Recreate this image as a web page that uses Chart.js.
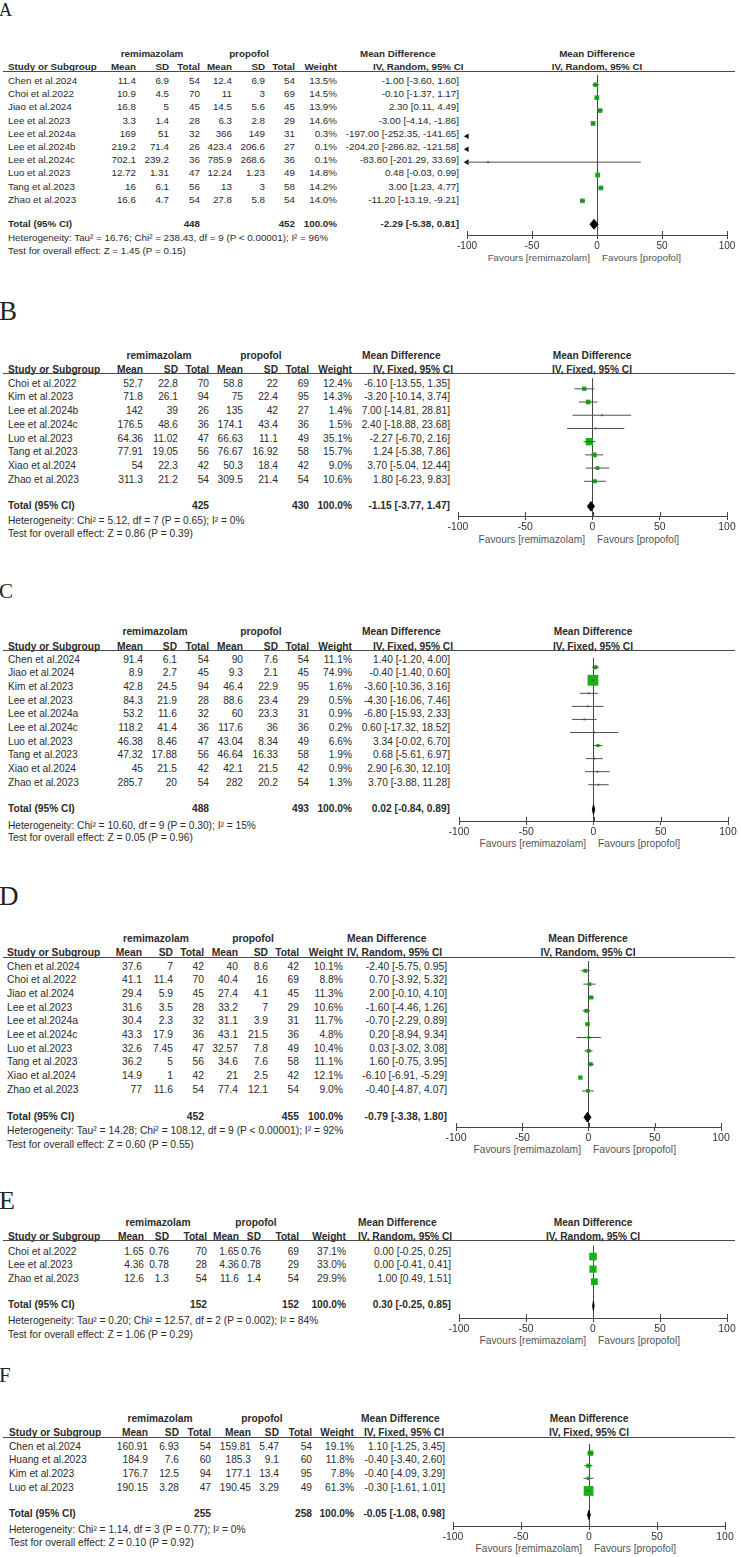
<!DOCTYPE html>
<html><head><meta charset="utf-8">
<script src="https://cdn.jsdelivr.net/npm/chart.js@4.4.1/dist/chart.umd.min.js"></script>
<style>
html,body{margin:0;padding:0;background:#fff;}
#page{position:relative;width:741px;height:1557px;overflow:hidden;font-family:"Liberation Sans",Arial,sans-serif;color:#2b2b2b;}
.t{position:absolute;white-space:nowrap;}
canvas{position:absolute;}
.rule{position:absolute;height:1px;background:#4a4a4a;}
</style></head>
<body><div id="page"></div>
<script>
// ---------- shared ----------
const tickValues = [-100, -50, 0, 50, 100];
const columnHeads = ['Mean', 'SD', 'Total', 'Mean', 'SD', 'Total', 'Weight'];
const groupNames = ['remimazolam', 'propofol'];
const favourLabels = ['Favours [remimazolam]', 'Favours [propofol]'];

// ---------- Panel A ----------
const studiesA = ['Chen et al.2024','Choi et al.2022','Jiao et al.2024','Lee et al.2023','Lee et al.2024a','Lee et al.2024b','Lee et al.2024c','Luo et al.2023','Tang et al.2023','Zhao et al.2023'];
const remiMeanA = [11.4, 10.9, 16.8, 3.3, 169, 219.2, 702.1, 12.72, 16, 16.6];
const remiSDA   = [6.9, 4.5, 5, 1.4, 51, 71.4, 239.2, 1.31, 6.1, 4.7];
const remiNA    = [54, 70, 45, 28, 32, 26, 36, 47, 56, 54];
const propMeanA = [12.4, 11, 14.5, 6.3, 366, 423.4, 785.9, 12.24, 13, 27.8];
const propSDA   = [6.9, 3, 5.6, 2.8, 149, 206.6, 268.6, 1.23, 3, 5.8];
const propNA    = [54, 69, 45, 29, 31, 27, 36, 49, 58, 54];
const weightA   = [13.5, 14.5, 13.9, 14.6, 0.3, 0.1, 0.1, 14.8, 14.2, 14.0];
const mdA       = [-1.00, -0.10, 2.30, -3.00, -197.00, -204.20, -83.80, 0.48, 3.00, -11.20];
const ciLowA    = [-3.60, -1.37, 0.11, -4.14, -252.35, -286.82, -201.29, -0.03, 1.23, -13.19];
const ciHighA   = [1.60, 1.17, 4.49, -1.86, -141.65, -121.58, 33.69, 0.99, 4.77, -9.21];
const totalNA   = [448, 452];
const pooledA   = [-2.29, -5.38, 0.81];
const hetA  = 'Heterogeneity: Tau² = 16.76; Chi² = 238.43, df = 9 (P < 0.00001); I² = 96%';
const testA = 'Test for overall effect: Z = 1.45 (P = 0.15)';

// ---------- Panel B ----------
const studiesB = ['Choi et al.2022','Kim et al.2023','Lee et al.2024b','Lee et al.2024c','Luo et al.2023','Tang et al.2023','Xiao et al.2024','Zhao et al.2023'];
const remiMeanB = [52.7, 71.8, 142, 176.5, 64.36, 77.91, 54, 311.3];
const remiSDB   = [22.8, 26.1, 39, 48.6, 11.02, 19.05, 22.3, 21.2];
const remiNB    = [70, 94, 26, 36, 47, 56, 42, 54];
const propMeanB = [58.8, 75, 135, 174.1, 66.63, 76.67, 50.3, 309.5];
const propSDB   = [22, 22.4, 42, 43.4, 11.1, 16.92, 18.4, 21.4];
const propNB    = [69, 95, 27, 36, 49, 58, 42, 54];
const weightB   = [12.4, 14.3, 1.4, 1.5, 35.1, 15.7, 9.0, 10.6];
const mdB       = [-6.10, -3.20, 7.00, 2.40, -2.27, 1.24, 3.70, 1.80];
const ciLowB    = [-13.55, -10.14, -14.81, -18.88, -6.70, -5.38, -5.04, -6.23];
const ciHighB   = [1.35, 3.74, 28.81, 23.68, 2.16, 7.86, 12.44, 9.83];
const totalNB   = [425, 430];
const pooledB   = [-1.15, -3.77, 1.47];
const hetB  = 'Heterogeneity: Chi² = 5.12, df = 7 (P = 0.65); I² = 0%';
const testB = 'Test for overall effect: Z = 0.86 (P = 0.39)';

// ---------- Panel C ----------
const studiesC = ['Chen et al.2024','Jiao et al.2024','Kim et al.2023','Lee et al.2023','Lee et al.2024a','Lee et al.2024c','Luo et al.2023','Tang et al.2023','Xiao et al.2024','Zhao et al.2023'];
const remiMeanC = [91.4, 8.9, 42.8, 84.3, 53.2, 118.2, 46.38, 47.32, 45, 285.7];
const remiSDC   = [6.1, 2.7, 24.5, 21.9, 11.6, 41.4, 8.46, 17.88, 21.5, 20];
const remiNC    = [54, 45, 94, 28, 32, 36, 47, 56, 42, 54];
const propMeanC = [90, 9.3, 46.4, 88.6, 60, 117.6, 43.04, 46.64, 42.1, 282];
const propSDC   = [7.6, 2.1, 22.9, 23.4, 23.3, 36, 8.34, 16.33, 21.5, 20.2];
const propNC    = [54, 45, 95, 29, 31, 36, 49, 58, 42, 54];
const weightC   = [11.1, 74.9, 1.6, 0.5, 0.9, 0.2, 6.6, 1.9, 0.9, 1.3];
const mdC       = [1.40, -0.40, -3.60, -4.30, -6.80, 0.60, 3.34, 0.68, 2.90, 3.70];
const ciLowC    = [-1.20, -1.40, -10.36, -16.06, -15.93, -17.32, -0.02, -5.61, -6.30, -3.88];
const ciHighC   = [4.00, 0.60, 3.16, 7.46, 2.33, 18.52, 6.70, 6.97, 12.10, 11.28];
const totalNC   = [488, 493];
const pooledC   = [0.02, -0.84, 0.89];
const hetC  = 'Heterogeneity: Chi² = 10.60, df = 9 (P = 0.30); I² = 15%';
const testC = 'Test for overall effect: Z = 0.05 (P = 0.96)';

// ---------- Panel D ----------
const studiesD = ['Chen et al.2024','Choi et al.2022','Jiao et al.2024','Lee et al.2023','Lee et al.2024a','Lee et al.2024c','Luo et al.2023','Tang et al.2023','Xiao et al.2024','Zhao et al.2023'];
const remiMeanD = [37.6, 41.1, 29.4, 31.6, 30.4, 43.3, 32.6, 36.2, 14.9, 77];
const remiSDD   = [7, 11.4, 5.9, 3.5, 2.3, 17.9, 7.45, 5, 1, 11.6];
const remiND    = [42, 70, 45, 28, 32, 36, 47, 56, 42, 54];
const propMeanD = [40, 40.4, 27.4, 33.2, 31.1, 43.1, 32.57, 34.6, 21, 77.4];
const propSDD   = [8.6, 16, 4.1, 7, 3.9, 21.5, 7.8, 7.6, 2.5, 12.1];
const propND    = [42, 69, 45, 29, 31, 36, 49, 58, 42, 54];
const weightD   = [10.1, 8.8, 11.3, 10.6, 11.7, 4.8, 10.4, 11.1, 12.1, 9.0];
const mdD       = [-2.40, 0.70, 2.00, -1.60, -0.70, 0.20, 0.03, 1.60, -6.10, -0.40];
const ciLowD    = [-5.75, -3.92, -0.10, -4.46, -2.29, -8.94, -3.02, -0.75, -6.91, -4.87];
const ciHighD   = [0.95, 5.32, 4.10, 1.26, 0.89, 9.34, 3.08, 3.95, -5.29, 4.07];
const totalND   = [452, 455];
const pooledD   = [-0.79, -3.38, 1.80];
const hetD  = 'Heterogeneity: Tau² = 14.28; Chi² = 108.12, df = 9 (P < 0.00001); I² = 92%';
const testD = 'Test for overall effect: Z = 0.60 (P = 0.55)';

// ---------- Panel E ----------
const studiesE = ['Choi et al.2022','Lee et al.2023','Zhao et al.2023'];
const remiMeanE = [1.65, 4.36, 12.6];
const remiSDE   = [0.76, 0.78, 1.3];
const remiNE    = [70, 28, 54];
const propMeanE = [1.65, 4.36, 11.6];
const propSDE   = [0.76, 0.78, 1.4];
const propNE    = [69, 29, 54];
const weightE   = [37.1, 33.0, 29.9];
const mdE       = [0.00, 0.00, 1.00];
const ciLowE    = [-0.25, -0.41, 0.49];
const ciHighE   = [0.25, 0.41, 1.51];
const totalNE   = [152, 152];
const pooledE   = [0.30, -0.25, 0.85];
const hetE  = 'Heterogeneity: Tau² = 0.20; Chi² = 12.57, df = 2 (P = 0.002); I² = 84%';
const testE = 'Test for overall effect: Z = 1.06 (P = 0.29)';

// ---------- Panel F ----------
const studiesF = ['Chen et al.2024','Huang et al.2023','Kim et al.2023','Luo et al.2023'];
const remiMeanF = [160.91, 184.9, 176.7, 190.15];
const remiSDF   = [6.93, 7.6, 12.5, 3.28];
const remiNF    = [54, 60, 94, 47];
const propMeanF = [159.81, 185.3, 177.1, 190.45];
const propSDF   = [5.47, 9.1, 13.4, 3.29];
const propNF    = [54, 60, 95, 49];
const weightF   = [19.1, 11.8, 7.8, 61.3];
const mdF       = [1.10, -0.40, -0.40, -0.30];
const ciLowF    = [-1.25, -3.40, -4.09, -1.61];
const ciHighF   = [3.45, 2.60, 3.29, 1.01];
const totalNF   = [255, 258];
const pooledF   = [-0.05, -1.08, 0.98];
const hetF  = 'Heterogeneity: Chi² = 1.14, df = 3 (P = 0.77); I² = 0%';
const testF = 'Test for overall effect: Z = 0.10 (P = 0.92)';

// ---------- layout (positions only) ----------
const layoutA = {lab:[11,18], fs:9.8, sx:8, grpY:54, hdrY:67, lineY:71, row0:81, step:13.22, totalY:224, hetY:238, testY:251, cols:[136,169,200,232,265,295,337], grp:[152,249], mdR:459, mdH:[360,373], x0:597, ppu:1.3, axisY:235, favY:258};
const layoutB = {lab:[311,27], fs:10.2, sx:8, grpY:356, hdrY:370, lineY:373, row0:384, step:13.71, totalY:506, hetY:521, testY:534, cols:[143,178,209,243,278,309,352], grp:[159,261], mdR:450, mdH:[362,373], x0:592, ppu:1.345, axisY:516, favY:540};
const layoutC = {lab:[592,21], fs:10.2, sx:8, grpY:632, hdrY:647, lineY:650, row0:660, step:13.67, totalY:809, hetY:826, testY:838, cols:[143,177,209,243,278,309,352], grp:[155,261], mdR:450, mdH:[362,373], x0:593, ppu:1.345, axisY:821, favY:844};
const layoutD = {lab:[896,27], fs:10.3, sx:7, grpY:939, hdrY:953, lineY:957, row0:967, step:13.67, totalY:1117, hetY:1131, testY:1145, cols:[142,173,204,238,268,299,343], grp:[156,253], mdR:447, mdH:[347,347], x0:588, ppu:1.325, axisY:1127, favY:1150};
const layoutE = {lab:[1201,26], fs:10.2, sx:8, grpY:1223, hdrY:1237, lineY:1240, row0:1252, step:13.5, totalY:1305, hetY:1321, testY:1335, cols:[144,169,207,239,261,299,346], grp:[158,256], mdR:451, mdH:[358,358], x0:593, ppu:1.34, axisY:1318, favY:1341};
const layoutF = {lab:[1376,21], fs:10.2, sx:9, grpY:1419, hdrY:1433, lineY:1437, row0:1447, step:13.67, totalY:1514, hetY:1530, testY:1543, cols:[148,179,211,251,279,312,354], grp:[160,262], mdR:445, mdH:[361,364], x0:589, ppu:1.36, axisY:1526, favY:1549};

const panels = [
  {id:'A', method:'IV, Random, 95% CI', studies:studiesA, rMean:remiMeanA, rSD:remiSDA, rN:remiNA, pMean:propMeanA, pSD:propSDA, pN:propNA, w:weightA, md:mdA, lo:ciLowA, hi:ciHighA, tot:totalNA, pooled:pooledA, het:hetA, test:testA, L:layoutA},
  {id:'B', method:'IV, Fixed, 95% CI', studies:studiesB, rMean:remiMeanB, rSD:remiSDB, rN:remiNB, pMean:propMeanB, pSD:propSDB, pN:propNB, w:weightB, md:mdB, lo:ciLowB, hi:ciHighB, tot:totalNB, pooled:pooledB, het:hetB, test:testB, L:layoutB},
  {id:'C', method:'IV, Fixed, 95% CI', studies:studiesC, rMean:remiMeanC, rSD:remiSDC, rN:remiNC, pMean:propMeanC, pSD:propSDC, pN:propNC, w:weightC, md:mdC, lo:ciLowC, hi:ciHighC, tot:totalNC, pooled:pooledC, het:hetC, test:testC, L:layoutC},
  {id:'D', method:'IV, Random, 95% CI', studies:studiesD, rMean:remiMeanD, rSD:remiSDD, rN:remiND, pMean:propMeanD, pSD:propSDD, pN:propND, w:weightD, md:mdD, lo:ciLowD, hi:ciHighD, tot:totalND, pooled:pooledD, het:hetD, test:testD, L:layoutD},
  {id:'E', method:'IV, Random, 95% CI', studies:studiesE, rMean:remiMeanE, rSD:remiSDE, rN:remiNE, pMean:propMeanE, pSD:propSDE, pN:propNE, w:weightE, md:mdE, lo:ciLowE, hi:ciHighE, tot:totalNE, pooled:pooledE, het:hetE, test:testE, L:layoutE},
  {id:'F', method:'IV, Fixed, 95% CI', studies:studiesF, rMean:remiMeanF, rSD:remiSDF, rN:remiNF, pMean:propMeanF, pSD:propSDF, pN:propNF, w:weightF, md:mdF, lo:ciLowF, hi:ciHighF, tot:totalNF, pooled:pooledF, het:hetF, test:testF, L:layoutF}
];

// ---------- drawing ----------
const page = document.getElementById('page');
const AXC = '#454545', CIC = '#505050', GREEN = '#16b216';
const AX_H = 22;

function txt(x, y, s, o) {
  o = o || {};
  const fs = o.size;
  const e = document.createElement('div');
  e.className = 't';
  e.textContent = s;
  e.style.fontSize = fs + 'px';
  e.style.lineHeight = (fs * 1.2) + 'px';
  e.style.top = (y - (o.k || 0.62) * fs) + 'px';
  e.style.left = x + 'px';
  if (o.align === 'right') e.style.transform = 'translateX(-100%)';
  else if (o.align === 'center') e.style.transform = 'translateX(-50%)';
  if (o.bold) e.style.fontWeight = 'bold';
  if (o.color) e.style.color = o.color;
  if (o.family) e.style.fontFamily = o.family;
  page.appendChild(e);
}
const f2 = v => v.toFixed(2);
const fmtMD = (m, l, h) => f2(m) + ' [' + f2(l) + ', ' + f2(h) + ']';

function drawTable(P) {
  const L = P.L, fs = L.fs;
  txt(-1, L.lab[0], P.id, {size: L.lab[1], family: '"Liberation Serif","Times New Roman",serif', k: 0.606, color: '#222'});
  txt(L.grp[0], L.grpY, groupNames[0], {size: fs, bold: true, align: 'center'});
  txt(L.grp[1], L.grpY, groupNames[1], {size: fs, bold: true, align: 'center'});
  txt(L.sx, L.hdrY, 'Study or Subgroup', {size: fs, bold: true});
  columnHeads.forEach((h, k) => txt(L.cols[k], L.hdrY, h, {size: fs, bold: true, align: 'right'}));
  txt(L.mdH[0], L.grpY, 'Mean Difference', {size: fs, bold: true});
  txt(L.mdH[1], L.hdrY, P.method, {size: fs, bold: true});
  txt(L.x0, L.grpY, 'Mean Difference', {size: fs, bold: true, align: 'center'});
  txt(L.x0, L.hdrY, P.method, {size: fs, bold: true, align: 'center'});
  const r = document.createElement('div');
  r.className = 'rule';
  r.style.left = '3px'; r.style.width = '732px'; r.style.top = (L.lineY - 0.5) + 'px';
  page.appendChild(r);
  P.studies.forEach((s, i) => {
    const y = L.row0 + i * L.step;
    txt(L.sx, y, s, {size: fs});
    [P.rMean[i], P.rSD[i], P.rN[i], P.pMean[i], P.pSD[i], P.pN[i]].forEach((v, k) =>
      txt(L.cols[k], y, String(v), {size: fs, align: 'right'}));
    txt(L.cols[6], y, P.w[i].toFixed(1) + '%', {size: fs, align: 'right'});
    txt(L.mdR, y, fmtMD(P.md[i], P.lo[i], P.hi[i]), {size: fs, align: 'right'});
  });
  const wSum = P.w.reduce((a, b) => a + b, 0);
  txt(L.sx, L.totalY, 'Total (95% CI)', {size: fs, bold: true});
  txt(L.cols[2], L.totalY, String(P.tot[0]), {size: fs, bold: true, align: 'right'});
  txt(L.cols[5], L.totalY, String(P.tot[1]), {size: fs, bold: true, align: 'right'});
  txt(L.cols[6], L.totalY, Math.round(wSum).toFixed(1) + '%', {size: fs, bold: true, align: 'right'});
  txt(L.mdR, L.totalY, fmtMD(P.pooled[0], P.pooled[1], P.pooled[2]), {size: fs, bold: true, align: 'right'});
  txt(L.sx, L.hetY, P.het, {size: fs});
  txt(L.sx, L.testY, P.test, {size: fs});
  txt(L.x0 - 7, L.favY, favourLabels[0], {size: fs, align: 'right', color: '#555'});
  txt(L.x0 + 5, L.favY, favourLabels[1], {size: fs, color: '#555'});
}

const upTicks = {
  id: 'upTicks',
  afterDraw(c) {
    const s = c.scales.x, ctx = c.ctx;
    ctx.save();
    ctx.strokeStyle = AXC; ctx.lineWidth = 1;
    s.ticks.forEach(t => {
      const px = Math.round(s.getPixelForValue(t.value)) + 0.5;
      ctx.beginPath(); ctx.moveTo(px, s.top - 4); ctx.lineTo(px, s.top); ctx.stroke();
    });
    ctx.restore();
  }
};

function drawForest(P) {
  const L = P.L;
  const xL = L.x0 - 100 * L.ppu, xR = L.x0 + 100 * L.ppu;
  const padL = 30;
  const left = Math.round(xL - padL);
  const right = Math.min(741, Math.round(xR + 12));
  const W = right - left;
  const padR = W - padL - (xR - xL);
  const top = Math.round(L.lineY);
  const H = Math.round(L.axisY) - top + AX_H;
  const cv = document.createElement('canvas');
  cv.width = W; cv.height = H;
  cv.style.left = left + 'px'; cv.style.top = top + 'px';
  cv.style.width = W + 'px'; cv.style.height = H + 'px';
  page.appendChild(cv);

  const yMin = (top - L.row0) / L.step;
  const yMax = (Math.round(L.axisY) - L.row0) / L.step;
  const yTot = (L.totalY - L.row0) / L.step;
  const datasets = [];
  const sq = [], sqR = [], arrowL = [], arrowR = [];
  P.studies.forEach((s, i) => {
    const lo = Math.max(P.lo[i], -100), hi = Math.min(P.hi[i], 100);
    if (hi > lo && P.hi[i] > -100 && P.lo[i] < 100) {
      datasets.push({data: [{x: lo, y: i}, {x: hi, y: i}], showLine: true, borderColor: CIC, borderWidth: 1, pointRadius: 0, clip: false});
    }
    if (P.lo[i] < -100) arrowL.push({x: -100, y: i});
    if (P.hi[i] > 100) arrowR.push({x: 100, y: i});
    if (P.md[i] >= -100 && P.md[i] <= 100) {
      sq.push({x: P.md[i], y: i});
      const side = Math.max(2, 1.25 * Math.sqrt(P.w[i]));
      sqR.push(side / Math.SQRT2);
    }
  });
  datasets.push({data: sq, pointStyle: 'rect', pointRadius: sqR, backgroundColor: GREEN, borderColor: GREEN, borderWidth: 0, clip: false});
  if (arrowL.length) datasets.push({data: arrowL, pointStyle: 'triangle', pointRotation: 270, pointRadius: 3.2, backgroundColor: '#111', borderColor: '#111', borderWidth: 0, clip: false});
  if (arrowR.length) datasets.push({data: arrowR, pointStyle: 'triangle', pointRotation: 90, pointRadius: 3.2, backgroundColor: '#111', borderColor: '#111', borderWidth: 0, clip: false});
  const h = 5 / L.step;
  const [pm, pl, ph] = P.pooled;
  datasets.push({data: [{x: pl, y: yTot}, {x: pm, y: yTot - h}, {x: ph, y: yTot}, {x: pm, y: yTot + h}, {x: pl, y: yTot}],
    showLine: true, fill: 'shape', backgroundColor: '#000', borderColor: '#000', borderWidth: 1, pointRadius: 0, tension: 0, clip: false});

  new Chart(cv, {
    type: 'scatter',
    data: {datasets},
    plugins: [upTicks],
    options: {
      responsive: false, animation: false, devicePixelRatio: 1,
      layout: {padding: {left: padL, right: padR, top: 0, bottom: 0}},
      plugins: {legend: {display: false}, tooltip: {enabled: false}},
      scales: {
        x: {
          type: 'linear', min: -100, max: 100,
          afterBuildTicks: s => { s.ticks = tickValues.map(v => ({value: v})); },
          afterFit: s => { s.height = AX_H; },
          grid: {drawOnChartArea: true, color: c => (c.tick && c.tick.value === 0) ? AXC : 'rgba(0,0,0,0)', tickColor: AXC, tickLength: 4, lineWidth: 1},
          border: {display: true, color: AXC, width: 1},
          ticks: {color: '#333', font: {family: '"Liberation Sans", Arial, sans-serif', size: L.fs + 0.2}, padding: 1, maxRotation: 0, autoSkip: false, callback: v => String(v)}
        },
        y: {type: 'linear', display: false, reverse: true, min: yMin, max: yMax}
      }
    }
  });
}

panels.forEach(P => { drawTable(P); drawForest(P); });
</script>
</body></html>
